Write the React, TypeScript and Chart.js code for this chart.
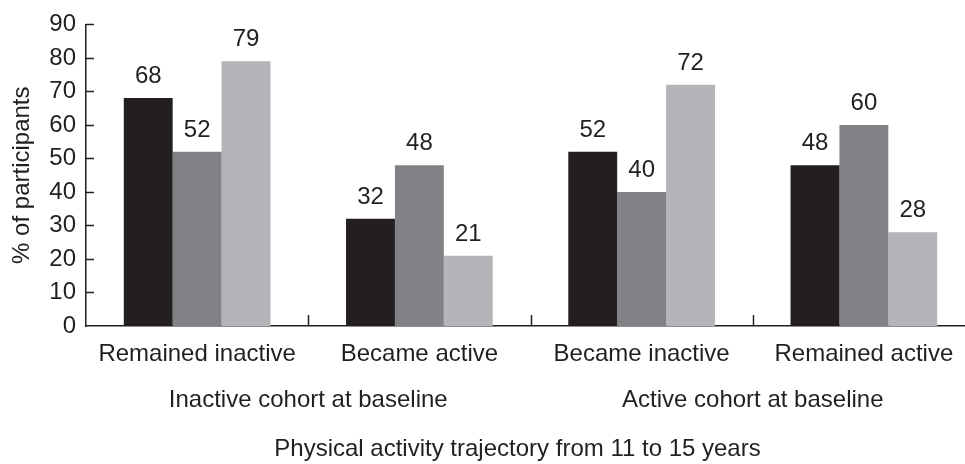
import React, { useEffect, useRef } from "react";
import { Chart, registerables } from "chart.js";

Chart.register(...registerables);

const categories = ["Remained inactive", "Became active", "Became inactive", "Remained active"];
const groupLabels = ["Inactive cohort at baseline", "Active cohort at baseline"];
const seriesBlack = [68, 32, 52, 48];
const seriesDark = [52, 48, 40, 60];
const seriesLight = [79, 21, 72, 28];
const yTickValues = [0, 10, 20, 30, 40, 50, 60, 70, 80, 90];
const xTitle = "Physical activity trajectory from 11 to 15 years";
const yTitle = "% of participants";

const FONT = "'Liberation Sans', Arial, Helvetica, sans-serif";
const FS = 24;
const TEXT = "#231f20";
const AXIS = "#231f20";

const annotate = {
  id: "annotate",
  afterDatasetsDraw(chart: any) {
    const ctx = chart.ctx;
    const xs = chart.scales.x;
    const ys = chart.scales.y;
    ctx.save();
    ctx.font = `${FS}px ${FONT}`;
    ctx.fillStyle = TEXT;
    ctx.textAlign = "center";
    ctx.textBaseline = "alphabetic";
    chart.data.datasets.forEach((ds: any, i: number) => {
      const meta = chart.getDatasetMeta(i);
      meta.data.forEach((bar: any, j: number) => {
        ctx.fillText(String(ds.data[j]), bar.x, bar.y - 15);
      });
    });
    // inner tick marks
    ctx.strokeStyle = AXIS;
    ctx.lineWidth = 1.5;
    ys.ticks.forEach((t: any) => {
      if (t.value === 0) return;
      const py = Math.round(ys.getPixelForValue(t.value)) + 0.5;
      ctx.beginPath();
      ctx.moveTo(xs.left, py);
      ctx.lineTo(xs.left + 8, py);
      ctx.stroke();
    });
    for (let k = 1; k < categories.length; k++) {
      const px = Math.round((xs.getPixelForValue(k - 1) + xs.getPixelForValue(k)) / 2) + 0.5;
      ctx.beginPath();
      ctx.moveTo(px, ys.bottom);
      ctx.lineTo(px, ys.bottom - 11);
      ctx.stroke();
    }
    // group labels
    groupLabels.forEach((g, gi) => {
      const px = (xs.getPixelForValue(gi * 2) + xs.getPixelForValue(gi * 2 + 1)) / 2;
      ctx.fillText(g, px, ys.bottom + 81);
    });
    // axis title
    ctx.fillText(xTitle, (xs.left + xs.right) / 2 - 13, ys.bottom + 130);
    ctx.restore();
  },
};

export default function App() {
  const ref = useRef<HTMLCanvasElement | null>(null);
  useEffect(() => {
    if (!ref.current) return;
    const chart = new Chart(ref.current, {
      type: "bar",
      data: {
        labels: categories,
        datasets: [
          { label: "Series 1", data: seriesBlack, backgroundColor: "#231f20", borderWidth: 0 },
          { label: "Series 2", data: seriesDark, backgroundColor: "#808285", borderWidth: 0 },
          { label: "Series 3", data: seriesLight, backgroundColor: "#b3b5b8", borderWidth: 0 },
        ],
      },
      options: {
        responsive: false,
        animation: false,
        events: [],
        layout: { padding: { left: 0, right: 15, top: 18, bottom: 0 } },
        datasets: { bar: { categoryPercentage: 0.66, barPercentage: 1 } },
        plugins: { legend: { display: false }, tooltip: { enabled: false } },
        scales: {
          x: {
            grid: { display: false, drawTicks: false },
            border: { display: true, color: AXIS, width: 1.5 },
            ticks: { color: TEXT, font: { family: FONT, size: FS }, padding: 14, maxRotation: 0, autoSkip: false },
            title: { display: false, text: xTitle },
            afterFit: (s: any) => { s.height = 138; },
          },
          y: {
            min: 0,
            max: 90,
            afterBuildTicks: (s: any) => { s.ticks = yTickValues.map((v) => ({ value: v })); },
            grid: { display: false, drawTicks: false },
            border: { display: true, color: AXIS, width: 1.5 },
            ticks: { color: TEXT, font: { family: FONT, size: FS }, padding: 10 },
            title: { display: true, text: yTitle, color: TEXT, font: { family: FONT, size: FS }, padding: { top: 8, bottom: 0 } },
            afterFit: (s: any) => { s.width = 86; },
          },
        },
      },
      plugins: [annotate],
    });
    return () => chart.destroy();
  }, []);
  return (
    <div style={{ position: "fixed", left: 0, top: 0, width: 965, height: 464, overflow: "hidden", background: "#fff" }}>
      <canvas ref={ref} width={990} height={464} style={{ display: "block", width: 990, height: 464 }} />
    </div>
  );
}
